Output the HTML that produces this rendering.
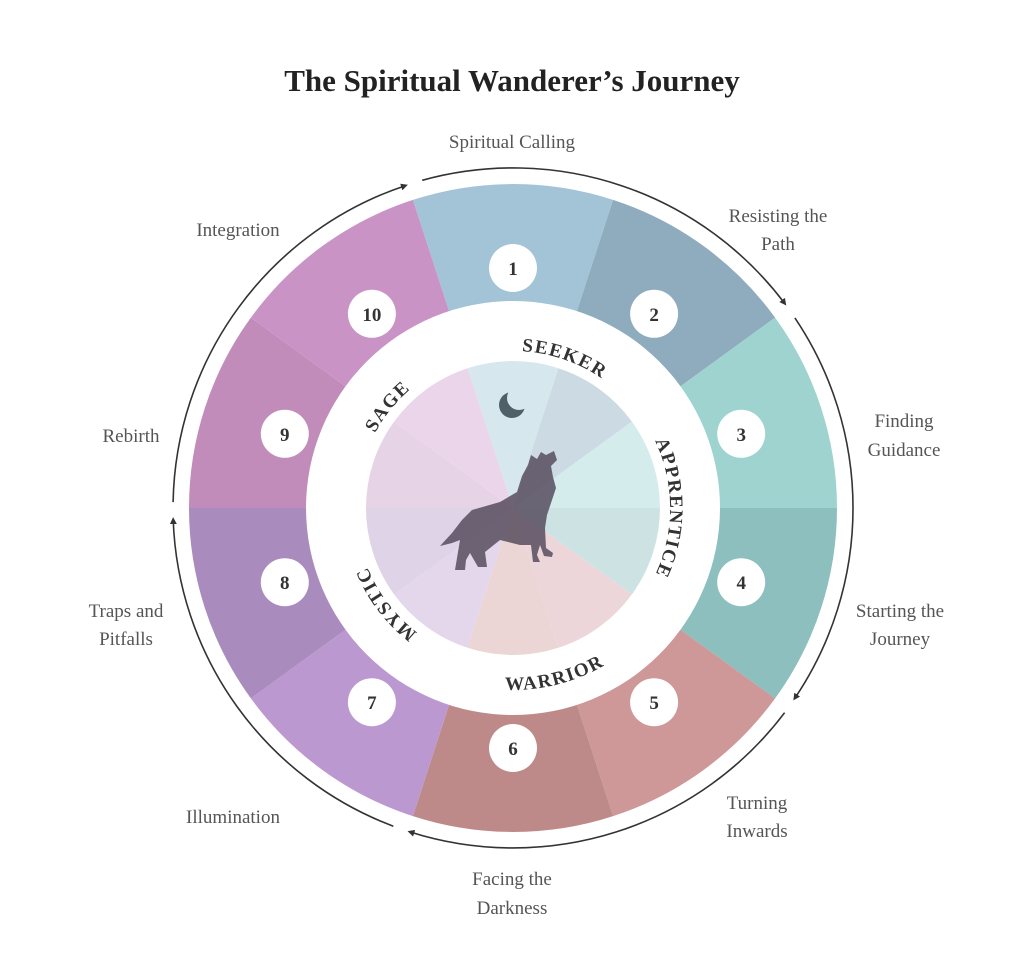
<!DOCTYPE html>
<html><head><meta charset="utf-8"><style>
html,body{margin:0;padding:0;background:#fff;}
svg{display:block;}
.lb{font-family:"Liberation Serif",serif;font-size:19px;fill:#555;text-anchor:middle;}
.num{font-family:"Liberation Serif",serif;font-size:19px;font-weight:bold;fill:#333;text-anchor:middle;}
.ring{font-family:"Liberation Serif",serif;font-size:19px;font-weight:bold;fill:#333;letter-spacing:1.5px;}
</style></head><body>
<svg width="1024" height="975" viewBox="0 0 1024 975" xmlns="http://www.w3.org/2000/svg">
<defs>
<marker id="ah" viewBox="0 0 10 10" refX="6" refY="5" markerWidth="7" markerHeight="7" orient="auto" markerUnits="userSpaceOnUse">
<path d="M0,0 L10,5 L0,10 z" fill="#333"/></marker>
<path id="pSeeker" d="M483,353.9 A157,157 0 0 1 631.5,405"/>
<path id="pApp" d="M591.5,372 A157,157 0 0 1 591.5,644"/>
<path id="pMystic" d="M451.7,652.6 A157,157 0 0 1 357.1,527.1"/>
<path id="pSage" d="M357.9,483.5 A157,157 0 0 1 456.8,361.4"/>
<path id="pWar" d="M462.8,682.9 A182,182 0 0 0 639.4,638.9"/>
<mask id="moonm"><rect x="0" y="0" width="1024" height="975" fill="#fff"/><circle cx="519" cy="398" r="12" fill="#000"/></mask>
</defs>
<text x="512" y="91" font-family="Liberation Serif,serif" font-size="31" font-weight="bold" fill="#222" text-anchor="middle">The Spiritual Wanderer’s Journey</text>

<g>
<path d="M513,508 L412.9,199.9 A324,324 0 0 1 613.1,199.9 z" fill="#a3c4d6"/>
<path d="M513,508 L613.1,199.9 A324,324 0 0 1 775.1,317.6 z" fill="#8eacbd"/>
<path d="M513,508 L775.1,317.6 A324,324 0 0 1 837,508 z" fill="#9ed3d0"/>
<path d="M513,508 L837,508 A324,324 0 0 1 775.1,698.4 z" fill="#8cbfbd"/>
<path d="M513,508 L775.1,698.4 A324,324 0 0 1 613.1,816.1 z" fill="#cd9897"/>
<path d="M513,508 L613.1,816.1 A324,324 0 0 1 412.9,816.1 z" fill="#bd8a89"/>
<path d="M513,508 L412.9,816.1 A324,324 0 0 1 250.9,698.4 z" fill="#bc98d0"/>
<path d="M513,508 L250.9,698.4 A324,324 0 0 1 189,508 z" fill="#a98bbd"/>
<path d="M513,508 L189,508 A324,324 0 0 1 250.9,317.6 z" fill="#c18cba"/>
<path d="M513,508 L250.9,317.6 A324,324 0 0 1 412.9,199.9 z" fill="#c993c6"/>
</g>
<circle cx="513" cy="508" r="207" fill="#fff"/>
<g>
<path d="M513,508 L467.6,368.2 A147,147 0 0 1 558.4,368.2 z" fill="#d6e7ee"/>
<path d="M513,508 L558.4,368.2 A147,147 0 0 1 631.9,421.6 z" fill="#ccdbe3"/>
<path d="M513,508 L631.9,421.6 A147,147 0 0 1 660,508 z" fill="#d5ecec"/>
<path d="M513,508 L660,508 A147,147 0 0 1 631.9,594.4 z" fill="#cde3e3"/>
<path d="M513,508 L631.9,594.4 A147,147 0 0 1 558.4,647.8 z" fill="#ecd6d9"/>
<path d="M513,508 L558.4,647.8 A147,147 0 0 1 467.6,647.8 z" fill="#ebd5d5"/>
<path d="M513,508 L467.6,647.8 A147,147 0 0 1 394.1,594.4 z" fill="#e4d7ec"/>
<path d="M513,508 L394.1,594.4 A147,147 0 0 1 366,508 z" fill="#ded3e7"/>
<path d="M513,508 L366,508 A147,147 0 0 1 394.1,421.6 z" fill="#e6d3e6"/>
<path d="M513,508 L394.1,421.6 A147,147 0 0 1 467.6,368.2 z" fill="#ebd5ea"/>
</g>
<circle cx="512" cy="405" r="13" fill="#4f6068" mask="url(#moonm)"/>
<path d="M554,451 L557,460 L551,466 L553,477 L556,488 L552,500 L547,515 L545,528 L546,548 L553,553 L552,557 L544,556 L540,545 L537,555 L540,562 L533,562 L531,545 L520,545 L500,540 L485,552 L487,567 L478,567 L470,553 L466,560 L465,570 L455,570 L458,552 L460,540 L452,543 L440,546 L452,533 L462,520 L472,510 L500,502 L517,492 L522,476 L528,465 L531,455 L537,459 L541,452 L546,455 z" fill="#4f4356" fill-opacity="0.8"/>

<text class="ring"><textPath href="#pSeeker" startOffset="50%" text-anchor="middle">SEEKER</textPath></text>
<text class="ring"><textPath href="#pApp" startOffset="50%" text-anchor="middle">APPRENTICE</textPath></text>
<text class="ring"><textPath href="#pMystic" startOffset="50%" text-anchor="middle">MYSTIC</textPath></text>
<text class="ring"><textPath href="#pSage" startOffset="50%" text-anchor="middle">SAGE</textPath></text>
<text class="ring"><textPath href="#pWar" startOffset="50%" text-anchor="middle">WARRIOR</textPath></text>

<g fill="#fff">
<circle cx="513" cy="268" r="24"/><circle cx="654.1" cy="313.8" r="24"/><circle cx="741.2" cy="433.8" r="24"/>
<circle cx="741.2" cy="582.2" r="24"/><circle cx="654.1" cy="702.2" r="24"/><circle cx="513" cy="748" r="24"/>
<circle cx="371.9" cy="702.2" r="24"/><circle cx="284.8" cy="582.2" r="24"/><circle cx="284.8" cy="433.8" r="24"/>
<circle cx="371.9" cy="313.8" r="24"/>
</g>
<g>
<text class="num" x="513" y="275">1</text><text class="num" x="654.1" y="321">2</text><text class="num" x="741.2" y="441">3</text>
<text class="num" x="741.2" y="589">4</text><text class="num" x="654.1" y="709">5</text><text class="num" x="513" y="755">6</text>
<text class="num" x="371.9" y="709">7</text><text class="num" x="284.8" y="589">8</text><text class="num" x="284.8" y="441">9</text>
<text class="num" x="371.9" y="321">10</text>
</g>

<g fill="none" stroke="#333" stroke-width="1.6" marker-end="url(#ah)">
<path d="M422.2,180.3 A340,340 0 0 1 784.6,303.3"/>
<path d="M794.9,317.9 A340,340 0 0 1 794.9,698.1"/>
<path d="M784.6,712.7 A340,340 0 0 1 410.2,832"/>
<path d="M393.3,826.2 A340,340 0 0 1 173.2,519.9"/>
<path d="M173.1,502.1 A340,340 0 0 1 405.2,185.7"/>
</g>

<text class="lb" x="512" y="148">Spiritual Calling</text>
<text class="lb" x="778" y="222">Resisting the</text><text class="lb" x="778" y="250">Path</text>
<text class="lb" x="238" y="236">Integration</text>
<text class="lb" x="904" y="427">Finding</text><text class="lb" x="904" y="456">Guidance</text>
<text class="lb" x="131" y="442">Rebirth</text>
<text class="lb" x="900" y="617">Starting the</text><text class="lb" x="900" y="645">Journey</text>
<text class="lb" x="126" y="617">Traps and</text><text class="lb" x="126" y="645">Pitfalls</text>
<text class="lb" x="757" y="809">Turning</text><text class="lb" x="757" y="837">Inwards</text>
<text class="lb" x="233" y="823">Illumination</text>
<text class="lb" x="512" y="885">Facing the</text><text class="lb" x="512" y="914">Darkness</text>
</svg>
</body></html>
